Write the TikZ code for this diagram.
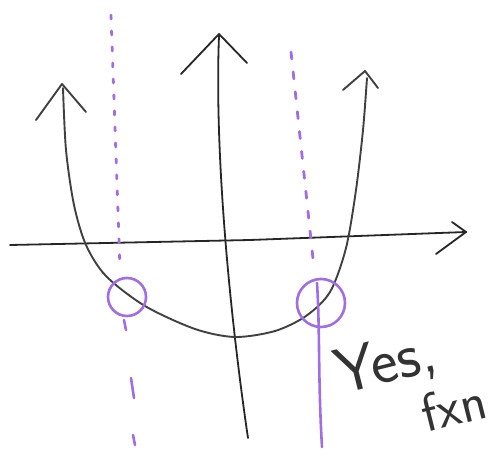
\documentclass[tikz,border=0pt]{standalone}
\usepackage{tikz}
\usetikzlibrary{positioning}
\definecolor{vlpurple}{RGB}{160,110,228}
\tikzset{
  axisln/.style ={line width=1.8pt, black!85, line cap=round, line join=round},
  curveln/.style={line width=1.9pt, black!75, line cap=round, line join=round},
  vldots/.style ={line width=2.8pt, vlpurple, line cap=round,
                  dash pattern=on 4pt off 12pt},
  vldash/.style ={line width=2.8pt, vlpurple, line cap=round,
                  dash pattern=on 7pt off 13pt},
  vlsolid/.style={line width=2.6pt, vlpurple, line cap=round},
  hit/.style    ={draw=vlpurple, line width=2.6pt, circle, inner sep=0pt},
  hand/.style   ={font=\sffamily\fontsize{64}{58}\selectfont, text=black!80,
                  inner sep=0pt, align=left},
}
\begin{document}
\begin{tikzpicture}[x=1pt,y=-1pt]
\useasboundingbox (0,0) rectangle (501,457);
% axes
\draw[axisln] (10,245) -- (250,240) -- (466,232);
\draw[axisln] (436,254) -- (466,232) -- (452,222);
\draw[axisln] (248,438) .. controls (232,330) and (214,160) .. (219,36);
\draw[axisln] (181,74) -- (219,34) -- (247,63);
% the curve
\draw[curveln] plot[smooth] coordinates {(63,88) (66,150) (74,205) (86,245)
  (106,276) (145,306) (195,329) (235,337) (275,331) (306,316) (330,292)
  (346,248) (356,190) (363,130) (367,78)};
\draw[curveln] (36,120) -- (62,84) -- (86,112);
\draw[curveln] (343,90) -- (365,71) -- (378,88);
% vertical line test
\draw[vldots] (111,15) -- (120,268);
\draw[vlsolid] (124,320) -- (126,330);
\draw[vlsolid] (131,378) -- (134,398);
\draw[vlsolid] (133,435) -- (135,445);
\draw[vldash] (291,52) -- (314,268);
\draw[vlsolid] (317,283) .. controls (320,330) and (318,380) .. (322,447);
\node[hit, minimum width=37pt, minimum height=38pt] (lhit) at (127,297) {};
\node[hit, minimum width=40pt, minimum height=48pt] (rhit) at (321,303) {};
% verdict
\node[hand, rotate=14] (verdict) at (410,384)
  {Yes,\\\hspace*{1.15em}{\fontsize{54}{54}\selectfont fxn}};
\end{tikzpicture}
\end{document}
